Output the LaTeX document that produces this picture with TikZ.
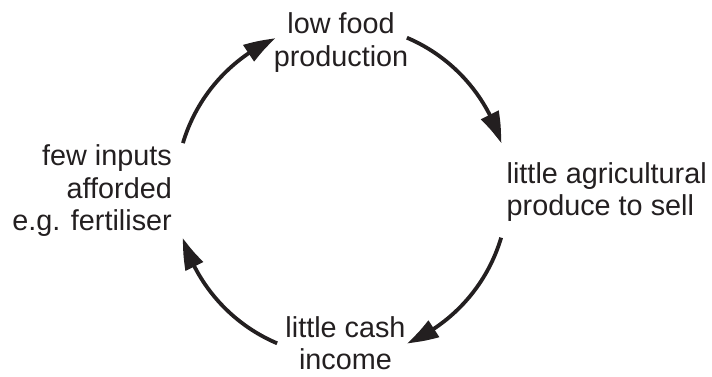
\documentclass[tikz,border=0pt]{standalone}
\usepackage{fontspec}
\setmainfont{Liberation Sans}
\usetikzlibrary{arrows.meta,bending}
\definecolor{ink}{RGB}{35,31,32}
\begin{document}
\begin{tikzpicture}[x=1pt,y=1pt,
  lbl/.style={inner sep=0pt,text=ink,font=\fontsize{28.8}{32.5}\selectfont},
  cyc/.style={draw=ink,line width=3.8pt,-{Triangle[length=31pt,width=19pt,bend]}}]
\useasboundingbox (0,0) rectangle (712,376);
\coordinate (c) at (342,185.5);
\node[lbl,align=center,anchor=base] (top) at (341,309.6) {low food\\production};
\node[lbl,align=left,anchor=base west] (right) at (506.5,160.2) {little agricultural\\produce to sell};
\node[lbl,align=right,anchor=base east] (left) at (172,145.5) {few inputs\\afforded\\e.g. fertiliser};
\node[lbl,align=center,anchor=base] (bottom) at (345.5,6.3) {little cash\\income};
\draw[cyc] ([shift={(163.4:166)}]c) arc[start angle=163.4,end angle=113.6,radius=166];
\draw[cyc] ([shift={(67:166)}]c) arc[start angle=67,end angle=16.5,radius=166];
\draw[cyc] ([shift={(-16.5:166)}]c) arc[start angle=-16.5,end angle=-67,radius=166];
\draw[cyc] ([shift={(-113:166)}]c) arc[start angle=-113,end angle=-163.4,radius=166];
\end{tikzpicture}
\end{document}
